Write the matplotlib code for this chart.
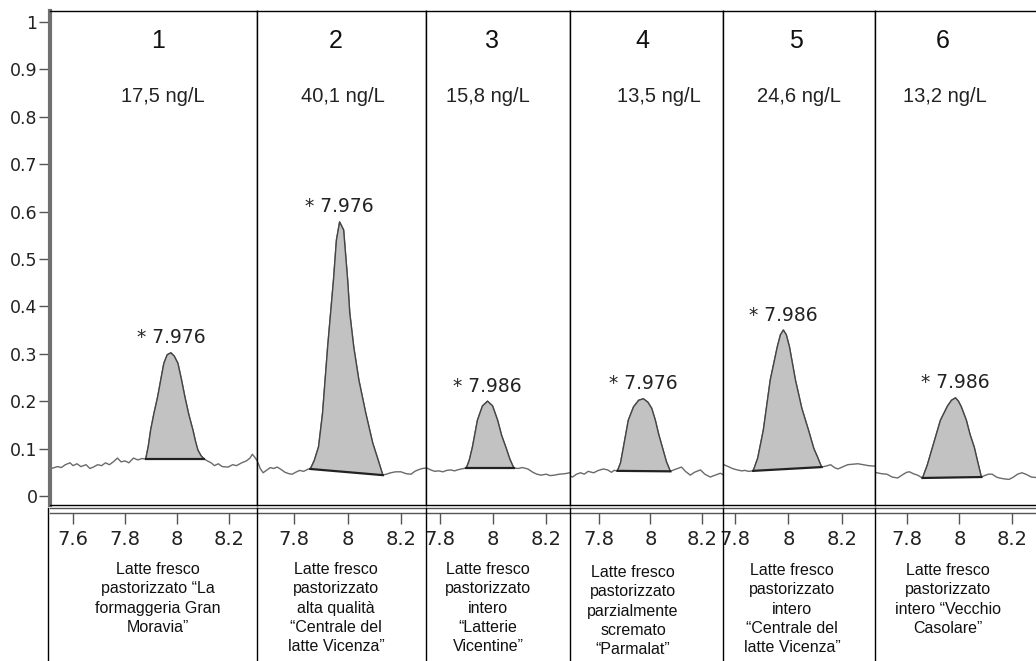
import matplotlib
matplotlib.use('Agg')
import matplotlib.pyplot as plt
from matplotlib.lines import Line2D
from matplotlib import transforms
from matplotlib.ticker import FuncFormatter
import numpy as np

# ---- data (retention time [min], intensity) ----
rt1 = [7.511, 7.522, 7.540, 7.555, 7.570, 7.588, 7.600, 7.615, 7.630, 7.650,
       7.665, 7.678, 7.695, 7.710, 7.725, 7.740, 7.755, 7.771, 7.785, 7.800,
       7.815, 7.833, 7.850, 7.865,
       7.880, 7.890, 7.899, 7.912, 7.926, 7.938, 7.950, 7.963, 7.977, 7.990,
       8.004, 8.018, 8.031, 8.046, 8.062, 8.072, 8.081, 8.093, 8.105,
       8.118, 8.132, 8.145, 8.160, 8.175, 8.198, 8.215, 8.230, 8.250, 8.268,
       8.282, 8.291, 8.300, 8.309]
i1 = [0.057, 0.059, 0.062, 0.060, 0.066, 0.070, 0.064, 0.068, 0.062, 0.066,
      0.058, 0.061, 0.066, 0.064, 0.070, 0.066, 0.072, 0.080, 0.072, 0.074,
      0.070, 0.080, 0.076, 0.079,
      0.078, 0.105, 0.139, 0.175, 0.209, 0.245, 0.280, 0.298, 0.302, 0.295,
      0.280, 0.245, 0.209, 0.172, 0.139, 0.115, 0.097, 0.085, 0.078,
      0.074, 0.070, 0.064, 0.068, 0.062, 0.061, 0.066, 0.064, 0.070, 0.074,
      0.080, 0.088, 0.082, 0.075]

rt2 = [7.660, 7.664, 7.672, 7.683, 7.695, 7.710, 7.722, 7.736, 7.750, 7.765,
       7.780, 7.792, 7.805, 7.820, 7.835, 7.853,
       7.860, 7.875, 7.891, 7.906, 7.925, 7.947, 7.958, 7.970, 7.985, 8.000,
       8.008, 8.023, 8.042, 8.068, 8.094, 8.115, 8.132,
       8.145, 8.162, 8.180, 8.200, 8.220, 8.238, 8.252, 8.264, 8.280, 8.294]
i2 = [0.066, 0.070, 0.058, 0.049, 0.054, 0.060, 0.058, 0.061, 0.056, 0.050,
      0.047, 0.046, 0.050, 0.054, 0.052, 0.057,
      0.057, 0.075, 0.104, 0.175, 0.314, 0.456, 0.540, 0.578, 0.561, 0.456,
      0.386, 0.314, 0.245, 0.175, 0.112, 0.075, 0.044,
      0.046, 0.049, 0.051, 0.051, 0.047, 0.046, 0.052, 0.055, 0.058, 0.059]

rt3 = [7.747, 7.750, 7.765, 7.780, 7.795, 7.811, 7.825, 7.840, 7.855, 7.865,
       7.880,
       7.899, 7.910, 7.922, 7.941, 7.960, 7.979, 7.998, 8.017, 8.032, 8.048,
       8.063, 8.078,
       8.095, 8.110, 8.131, 8.150, 8.165, 8.181, 8.200, 8.215, 8.231, 8.250,
       8.270, 8.290]
i3 = [0.060, 0.059, 0.055, 0.052, 0.053, 0.051, 0.054, 0.055, 0.053, 0.055,
      0.057,
      0.059, 0.075, 0.103, 0.160, 0.190, 0.200, 0.190, 0.160, 0.128, 0.103,
      0.078, 0.059,
      0.058, 0.060, 0.057, 0.050, 0.046, 0.044, 0.046, 0.043, 0.044, 0.046,
      0.047, 0.049]

rt4 = [7.690, 7.700, 7.715, 7.731, 7.745, 7.760, 7.781, 7.800, 7.819, 7.835,
       7.850, 7.860,
       7.873, 7.885, 7.896, 7.915, 7.935, 7.955, 7.973, 7.990, 8.005, 8.019,
       8.032, 8.046, 8.062, 8.077,
       8.090, 8.105, 8.120, 8.135, 8.154, 8.170, 8.193, 8.210, 8.231, 8.250,
       8.270, 8.280]
i4 = [0.042, 0.040, 0.046, 0.049, 0.046, 0.052, 0.049, 0.054, 0.057, 0.055,
      0.050, 0.054,
      0.053, 0.070, 0.103, 0.160, 0.188, 0.202, 0.205, 0.198, 0.185, 0.160,
      0.130, 0.103, 0.072, 0.052,
      0.055, 0.058, 0.061, 0.052, 0.044, 0.050, 0.055, 0.046, 0.040, 0.044,
      0.048, 0.045]

rt5 = [7.755, 7.762, 7.775, 7.790, 7.808, 7.825, 7.838, 7.849,
       7.868, 7.885, 7.906, 7.932, 7.958, 7.970, 7.981, 7.992, 8.004, 8.026,
       8.050, 8.075, 8.095, 8.109, 8.124,
       8.140, 8.158, 8.172, 8.185, 8.205, 8.222, 8.240, 8.260, 8.280, 8.300,
       8.324]
i5 = [0.068, 0.065, 0.062, 0.058, 0.055, 0.053, 0.054, 0.052,
      0.053, 0.080, 0.139, 0.245, 0.314, 0.340, 0.350, 0.340, 0.314, 0.245,
      0.185, 0.139, 0.100, 0.082, 0.061,
      0.063, 0.066, 0.060, 0.057, 0.062, 0.066, 0.067, 0.068, 0.066, 0.064,
      0.063]

rt6 = [7.680, 7.687, 7.705, 7.725, 7.745, 7.766, 7.785, 7.800, 7.811, 7.825,
       7.841,
       7.860, 7.878, 7.898, 7.928, 7.955, 7.970, 7.985, 7.996, 8.007, 8.026,
       8.040, 8.056, 8.070, 8.083,
       8.095, 8.110, 8.124, 8.140, 8.151, 8.170, 8.188, 8.205, 8.220, 8.237,
       8.255, 8.272, 8.290]
i6 = [0.050, 0.049, 0.047, 0.046, 0.040, 0.038, 0.045, 0.050, 0.051, 0.047,
      0.044,
      0.038, 0.065, 0.103, 0.160, 0.190, 0.202, 0.207, 0.200, 0.188, 0.160,
      0.130, 0.103, 0.070, 0.040,
      0.043, 0.046, 0.046, 0.040, 0.038, 0.036, 0.035, 0.040, 0.046, 0.049,
      0.045, 0.040, 0.039]

# integration limits of the peak [min]
peak_start = [7.880, 7.860, 7.899, 7.873, 7.868, 7.860]
peak_end = [8.105, 8.132, 8.078, 8.077, 8.124, 8.083]

panel_numbers = ['1', '2', '3', '4', '5', '6']
concentrations = ['17,5 ng/L', '40,1 ng/L', '15,8 ng/L',
                  '13,5 ng/L', '24,6 ng/L', '13,2 ng/L']
peak_labels = ['* 7.976', '* 7.976', '* 7.986', '* 7.976', '* 7.986', '* 7.986']
x_ticks = [[7.6, 7.8, 8.0, 8.2], [7.8, 8.0, 8.2], [7.8, 8.0, 8.2],
           [7.8, 8.0, 8.2], [7.8, 8.0, 8.2], [7.8, 8.0, 8.2]]
y_ticks = [0, 0.1, 0.2, 0.3, 0.4, 0.5, 0.6, 0.7, 0.8, 0.9, 1]
samples = ['Latte fresco\npastorizzato “La\nformaggeria Gran\nMoravia”',
           'Latte fresco\npastorizzato\nalta qualità\n“Centrale del\nlatte Vicenza”',
           'Latte fresco\npastorizzato\nintero\n“Latterie\nVicentine”',
           'Latte fresco\npastorizzato\nparzialmente\nscremato\n“Parmalat”',
           'Latte fresco\npastorizzato\nintero\n“Centrale del\nlatte Vicenza”',
           'Latte fresco\npastorizzato\nintero “Vecchio\nCasolare”']

rts = [rt1, rt2, rt3, rt4, rt5, rt6]
sigs = [i1, i2, i3, i4, i5, i6]

# ---- layout (pixels of the 1036x661 picture) ----
W, H = 1036, 661
edges = [50, 257, 426, 570, 723, 875, 1036]
top_px, bot_px = 11, 505
xlims = [(7.511, 8.309), (7.66, 8.294), (7.747, 8.29),
         (7.69, 8.28), (7.755, 8.324), (7.68, 8.29)]
ylim = (-0.019, 1.023)
head_x = [0.524, 0.464, 0.46, 0.47, 0.477, 0.42]
conc_x = [0.544, 0.506, 0.43, 0.58, 0.497, 0.435]
label_cx = [158, 336, 488, 633, 792, 948]
label_top = [562, 562, 562, 565, 563, 563]

fig = plt.figure(figsize=(W / 100, H / 100), dpi=100)

for k in range(6):
    ax = fig.add_axes([edges[k] / W, 1 - bot_px / H,
                       (edges[k + 1] - edges[k]) / W, (bot_px - top_px) / H])
    rt = np.array(rts[k])
    sig = np.array(sigs[k])
    ax.plot(rt, sig, color='#6a6a6a', lw=1, zorder=2)
    m = (rt >= peak_start[k]) & (rt <= peak_end[k])
    ax.fill(rt[m], sig[m], fc='#c2c2c2', ec='none', zorder=3)
    ax.plot(rt[m], sig[m], color='#444444', lw=1, zorder=4)
    ax.plot([rt[m][0], rt[m][-1]], [sig[m][0], sig[m][-1]],
            color='#222222', lw=1.6, zorder=4)

    apex = np.argmax(sig)
    ax.annotate(peak_labels[k], (rt[apex], sig[apex]), xytext=(0, 15),
                textcoords='offset pixels', ha='center', va='center',
                fontsize=13.5, family='DejaVu Sans', color='#222222')

    ax.set_xlim(*xlims[k])
    ax.set_ylim(*ylim)

    mixed = transforms.blended_transform_factory(ax.transAxes, ax.transData)
    ax.text(head_x[k], 0.96, panel_numbers[k], transform=mixed,
            ha='center', va='center', fontsize=18, family='Liberation Sans', color='#111111')
    ax.text(conc_x[k], 0.842, concentrations[k], transform=mixed,
            ha='center', va='center', fontsize=14.5, family='Liberation Sans', color='#222222')

    # frame
    for s in ['top', 'left', 'right']:
        ax.spines[s].set_color('black')
        ax.spines[s].set_linewidth(1)
    if k == 5:
        ax.spines['right'].set_visible(False)
    ax.plot([0, 1], [0, 0], transform=ax.transAxes, color='black', lw=1,
            clip_on=False, zorder=5)
    shifted = transforms.offset_copy(ax.transAxes, fig=fig, y=-3, units='dots')
    ax.plot([0, 1], [0, 0], transform=shifted, color='#555555', lw=1,
            clip_on=False, zorder=5)
    ax.spines['bottom'].set_position(('outward', 6))
    ax.spines['bottom'].set_color('#555555')
    ax.spines['bottom'].set_linewidth(1)

    ax.set_xticks(x_ticks[k])
    ax.xaxis.set_major_formatter(FuncFormatter(lambda v, p: f'{v:g}'))
    ax.tick_params(axis='x', length=8, width=1, color='#555555', pad=4,
                   labelsize=14, labelcolor='#222222')
    for t in ax.get_xticklabels():
        t.set_family('DejaVu Sans')

    if k == 0:
        ax.spines['left'].set_color('#707070')
        ax.spines['left'].set_linewidth(3)
        ax.set_yticks(y_ticks)
        ax.yaxis.set_major_formatter(FuncFormatter(lambda v, p: f'{v:g}'))
        ax.tick_params(axis='y', length=8, width=1, color='#555555', pad=1,
                       labelsize=12.5, labelcolor='#222222')
    else:
        ax.set_yticks([])

    # sample description below the axis
    fig.text(label_cx[k] / W, 1 - label_top[k] / H, samples[k], ha='center',
             va='top', fontsize=11.5, family='Liberation Sans',
             linespacing=1.36, color='#111111')

# separators in the description row
for xp in [48, 257, 426, 570, 723, 875]:
    fig.add_artist(Line2D([xp / W, xp / W], [0, 1 - 508 / H], color='black', lw=1))

fig.savefig('out.png', dpi=100)
